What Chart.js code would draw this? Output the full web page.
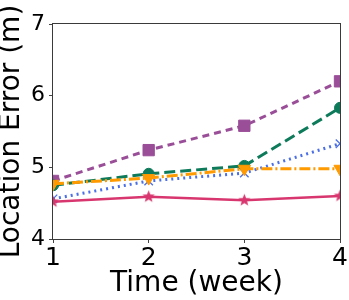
<!DOCTYPE html>
<html><head><meta charset="utf-8">
<script src="https://cdn.jsdelivr.net/npm/chart.js@4/dist/chart.umd.min.js"></script>
<style>html,body{margin:0;padding:0;background:#fff;overflow:hidden}#wrap{width:349px;height:300px;position:relative}</style>
</head><body><div id="wrap"><canvas id="c"></canvas></div>
<script>
const weeks = ['1', '2', '3', '4'];
const purpleSquare = [4.81, 5.24, 5.58, 6.20];
const greenCircle = [4.75, 4.91, 5.02, 5.83];
const blueCross = [4.56, 4.81, 4.92, 5.33];
const orangeTriangle = [4.77, 4.85, 4.98, 4.98];
const redStar = [4.52, 4.59, 4.54, 4.60];
const yTicks = [4, 5, 6, 7];
const xTitle = 'Time (week)';
const yTitle = 'Location Error (m)';

const FONT = '"DejaVu Sans", sans-serif';

function starMarker(color, R, r) {
  const c = document.createElement('canvas');
  const s = Math.ceil(R * 2 + 2);
  c.width = s; c.height = s;
  const g = c.getContext('2d');
  g.fillStyle = color;
  g.beginPath();
  for (let i = 0; i < 10; i++) {
    const rad = i % 2 === 0 ? R : r;
    const ang = -Math.PI / 2 + i * Math.PI / 5;
    const px = s / 2 + rad * Math.cos(ang), py = s / 2 + rad * Math.sin(ang);
    if (i === 0) g.moveTo(px, py); else g.lineTo(px, py);
  }
  g.closePath();
  g.fill();
  return c;
}

const boxPlugin = {
  id: 'box',
  afterDatasetsDraw(chart) {
    const {ctx, chartArea: a} = chart;
    ctx.save();
    ctx.strokeStyle = '#3a3a3a';
    ctx.lineWidth = 1;
    ctx.strokeRect(Math.round(a.left) - 0.5, Math.round(a.top) - 0.5, Math.round(a.right - a.left) + 1, Math.round(a.bottom - a.top) + 1);
    ctx.restore();
  }
};

function ds(label, data, color, style, radius, dash, width, order, extra) {
  return Object.assign({
    label, data,
    borderColor: color, backgroundColor: color,
    pointBackgroundColor: color, pointBorderColor: color,
    pointStyle: style, pointRadius: radius, pointHoverRadius: radius,
    borderDash: dash, borderWidth: width, pointBorderWidth: 1,
    tension: 0, fill: false, clip: 0, order
  }, extra || {});
}

new Chart(document.getElementById('c'), {
  type: 'line',
  data: {
    labels: weeks,
    datasets: [
      ds('A', purpleSquare, '#9a4e98', 'rect', 8, [7, 5], 3, 5),
      ds('B', greenCircle, '#0d7a5a', 'circle', 5.5, [11, 5], 3, 4),
      ds('C', blueCross, '#4b6fe6', 'crossRot', 6, [2, 4], 3, 3, {pointBorderWidth: 1.3}),
      ds('D', orangeTriangle, '#ff9a00', 'triangle', 7, [11, 3, 2, 3], 3, 2, {pointRotation: 180}),
      ds('E', redStar, '#d8366e', starMarker('#d8366e', 6.5, 2.8), 6, [], 2.5, 1)
    ]
  },
  plugins: [boxPlugin],
  options: {
    responsive: true, maintainAspectRatio: false, animation: false,
    layout: {padding: {top: 24, right: 6, left: 0, bottom: 0}},
    plugins: {legend: {display: false}, tooltip: {enabled: false}},
    scales: {
      x: {
        type: 'category', offset: false,
        grid: {display: true, drawOnChartArea: false, drawTicks: true, tickLength: 4, color: '#444'},
        border: {display: false},
        ticks: {color: '#000', font: {family: FONT, size: 25}, padding: 0, maxRotation: 0, autoSkip: false},
        title: {display: true, text: xTitle, color: '#000', font: {family: FONT, size: 28, lineHeight: '28px'}, padding: {top: 0, bottom: 2}},
        afterFit(s) { s.height = 61; s.paddingLeft = 0; s.paddingRight = 0; }
      },
      y: {
        min: 4, max: 7,
        afterBuildTicks(s) { s.ticks = yTicks.map(v => ({value: v})); },
        grid: {display: true, drawOnChartArea: false, drawTicks: true, tickLength: 4, color: '#444'},
        border: {display: false},
        ticks: {color: '#000', font: {family: FONT, size: 22}, padding: 4},
        title: {display: true, text: yTitle, color: '#000', font: {family: FONT, size: 28, lineHeight: '24px'}, padding: {top: 0, bottom: 0}},
        afterFit(s) { s.width = 53; s.paddingTop = 0; s.paddingBottom = 0; }
      }
    }
  }
});
</script></body></html>
